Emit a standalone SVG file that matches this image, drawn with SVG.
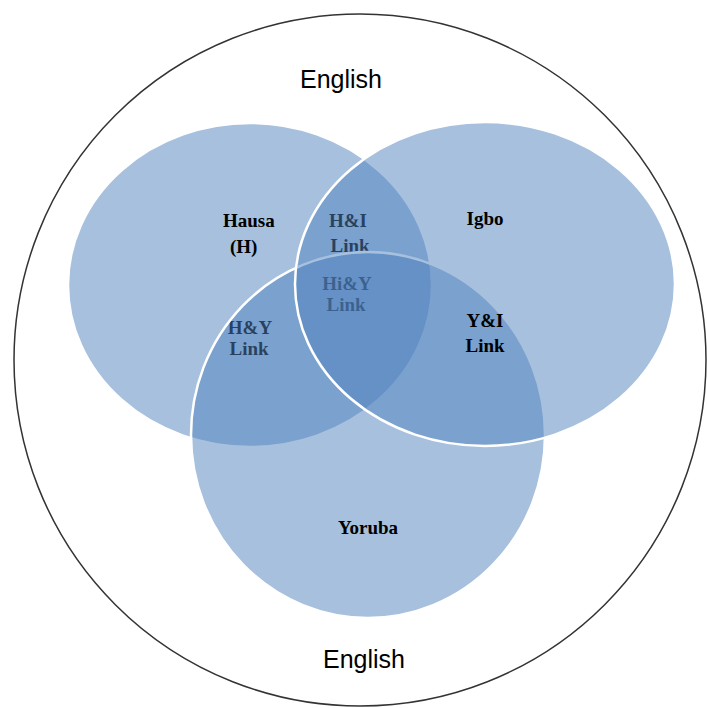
<svg xmlns="http://www.w3.org/2000/svg" width="707" height="708" viewBox="0 0 707 708">
<style>
.set{fill:#4F81BD;fill-opacity:0.5;stroke:#ffffff;stroke-width:2.5}
.eng{font-family:"Liberation Sans",Arial,sans-serif;font-size:25px;fill:#000}
.lbl{font-family:"Liberation Serif","Times New Roman",serif;font-size:19px;font-weight:bold;fill:#000}
</style>
<rect width="707" height="708" fill="#ffffff"/>
<g id="english">
<circle cx="360" cy="360" r="346" fill="none" stroke="#333" stroke-width="1.5"/>
<text class="eng" x="341" y="88" text-anchor="middle">English</text>
<text class="eng" x="364" y="668" text-anchor="middle">English</text>
</g>
<g id="hausa">
<ellipse class="set" cx="250" cy="285" rx="182" ry="162"/>
<text class="lbl" x="223" y="227">Hausa</text>
<text class="lbl" x="230" y="253">(H)</text>
</g>
<g id="hi-link">
<text class="lbl" x="348" y="227" text-anchor="middle">H&amp;I</text>
<text class="lbl" x="350" y="252" text-anchor="middle">Link</text>
</g>
<g id="hy-link">
<text class="lbl" x="250" y="334" text-anchor="middle">H&amp;Y</text>
<text class="lbl" x="249" y="355" text-anchor="middle">Link</text>
</g>
<g id="hiy-link">
<text class="lbl" x="347" y="290" text-anchor="middle">Hi&amp;Y</text>
<text class="lbl" x="346" y="311" text-anchor="middle">Link</text>
</g>
<g id="yoruba">
<ellipse class="set" cx="368" cy="435" rx="177" ry="183"/>
<text class="lbl" x="368" y="534" text-anchor="middle">Yoruba</text>
</g>
<g id="igbo">
<ellipse class="set" cx="485" cy="284" rx="190" ry="162"/>
<text class="lbl" x="485" y="225" text-anchor="middle">Igbo</text>
</g>
<g id="yi-link">
<text class="lbl" x="485" y="327" text-anchor="middle">Y&amp;I</text>
<text class="lbl" x="485" y="352" text-anchor="middle">Link</text>
</g>
<g id="connectors"/>
</svg>
